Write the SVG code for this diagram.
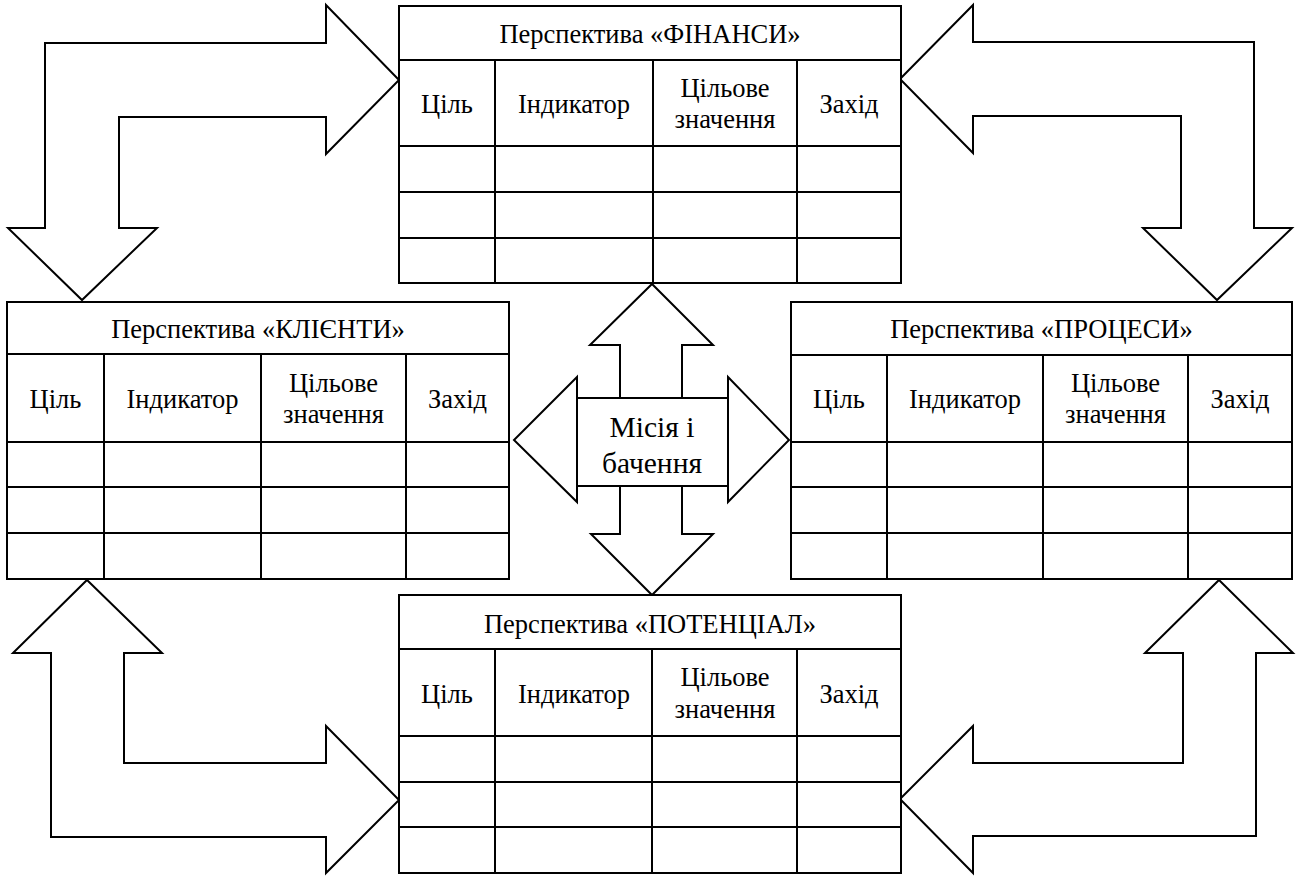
<svg xmlns="http://www.w3.org/2000/svg" width="1302" height="876" viewBox="0 0 1302 876">
<style>
.ln{fill:none;stroke:#000;stroke-width:2}
.ar{fill:#fff;stroke:#000;stroke-width:2;stroke-linejoin:miter}
.bx{fill:#fff;stroke:#000;stroke-width:2}
.t,.h,.c{font-family:"Liberation Serif","Times New Roman",serif;fill:#000;text-anchor:middle}
.t{font-size:26.5px}
.h{font-size:26.5px}
.c{font-size:29.5px}
</style>
<rect width="1302" height="876" fill="#fff"/>
<g id="connectors">
<polygon class="ar" points="399,80 326,5 326,43 45,43 45,228 8,228 82,300 157,228 119,228 119,117 326,117 326,154"/>
<polygon class="ar" points="900,79 973,5 973,42 1254,42 1254,228 1292,228 1217,300 1143,228 1181,228 1181,116 973,116 973,153"/>
<polygon class="ar" points="87,580 162,653 124,653 124,763 326,763 326,726 399,800 326,873 326,837 51,837 51,653 13,653"/>
<polygon class="ar" points="1219,580 1293,653 1256,653 1256,836 973,836 973,873 900,799 973,726 973,763 1183,763 1183,653 1145,653"/>
<polygon class="ar" points="620,398 620,345 590,345 652,284 713,345 682,345 682,398"/>
<polygon class="ar" points="620,486 620,534 591,534 652,595 713,534 682,534 682,486"/>
<polygon class="ar" points="577,377 514,440 577,502"/>
<polygon class="ar" points="728,377 789,440 728,502"/>
</g>
<g id="mission" font-family="Liberation Serif, serif">
<rect class="bx" x="577" y="398" width="151" height="88"/>
<text class="c" x="652" y="437">Місія і</text>
<text class="c" x="652" y="473">бачення</text>
</g>
<g id="finance" font-family="Liberation Serif, serif">
<rect class="bx" x="399" y="6" width="502" height="277"/>
<path class="ln" d="M399,60H901M399,146H901M399,192H901M399,238H901M495,60V283M653,60V283M797,60V283"/>
<text class="t" x="650" y="43">Перспектива «ФІНАНСИ»</text>
<text class="h" x="447" y="113">Ціль</text>
<text class="h" x="574" y="113">Індикатор</text>
<text class="h" x="725" y="97">Цільове</text>
<text class="h" x="725" y="128">значення</text>
<text class="h" x="849" y="113">Захід</text>
</g>
<g id="clients" font-family="Liberation Serif, serif">
<rect class="bx" x="7" y="302" width="502" height="277"/>
<path class="ln" d="M7,354H509M7,442H509M7,487H509M7,533H509M104,354V579M261,354V579M406,354V579"/>
<text class="t" x="258" y="338">Перспектива «КЛІЄНТИ»</text>
<text class="h" x="55.5" y="408">Ціль</text>
<text class="h" x="182.5" y="408">Індикатор</text>
<text class="h" x="333.5" y="392">Цільове</text>
<text class="h" x="333.5" y="423">значення</text>
<text class="h" x="457.5" y="408">Захід</text>
</g>
<g id="processes" font-family="Liberation Serif, serif">
<rect class="bx" x="791" y="302" width="501" height="277"/>
<path class="ln" d="M791,355H1292M791,442H1292M791,487H1292M791,533H1292M887,355V579M1043,355V579M1188,355V579"/>
<text class="t" x="1041.5" y="338">Перспектива «ПРОЦЕСИ»</text>
<text class="h" x="839" y="408">Ціль</text>
<text class="h" x="965" y="408">Індикатор</text>
<text class="h" x="1115.5" y="392">Цільове</text>
<text class="h" x="1115.5" y="423">значення</text>
<text class="h" x="1240" y="408">Захід</text>
</g>
<g id="potential" font-family="Liberation Serif, serif">
<rect class="bx" x="399" y="595" width="502" height="278"/>
<path class="ln" d="M399,649H901M399,736H901M399,782H901M399,827H901M495,649V873M652,649V873M797,649V873"/>
<text class="t" x="650" y="633">Перспектива «ПОТЕНЦІАЛ»</text>
<text class="h" x="447" y="703">Ціль</text>
<text class="h" x="574" y="703">Індикатор</text>
<text class="h" x="725" y="686">Цільове</text>
<text class="h" x="725" y="718">значення</text>
<text class="h" x="849" y="703">Захід</text>
</g>
</svg>
